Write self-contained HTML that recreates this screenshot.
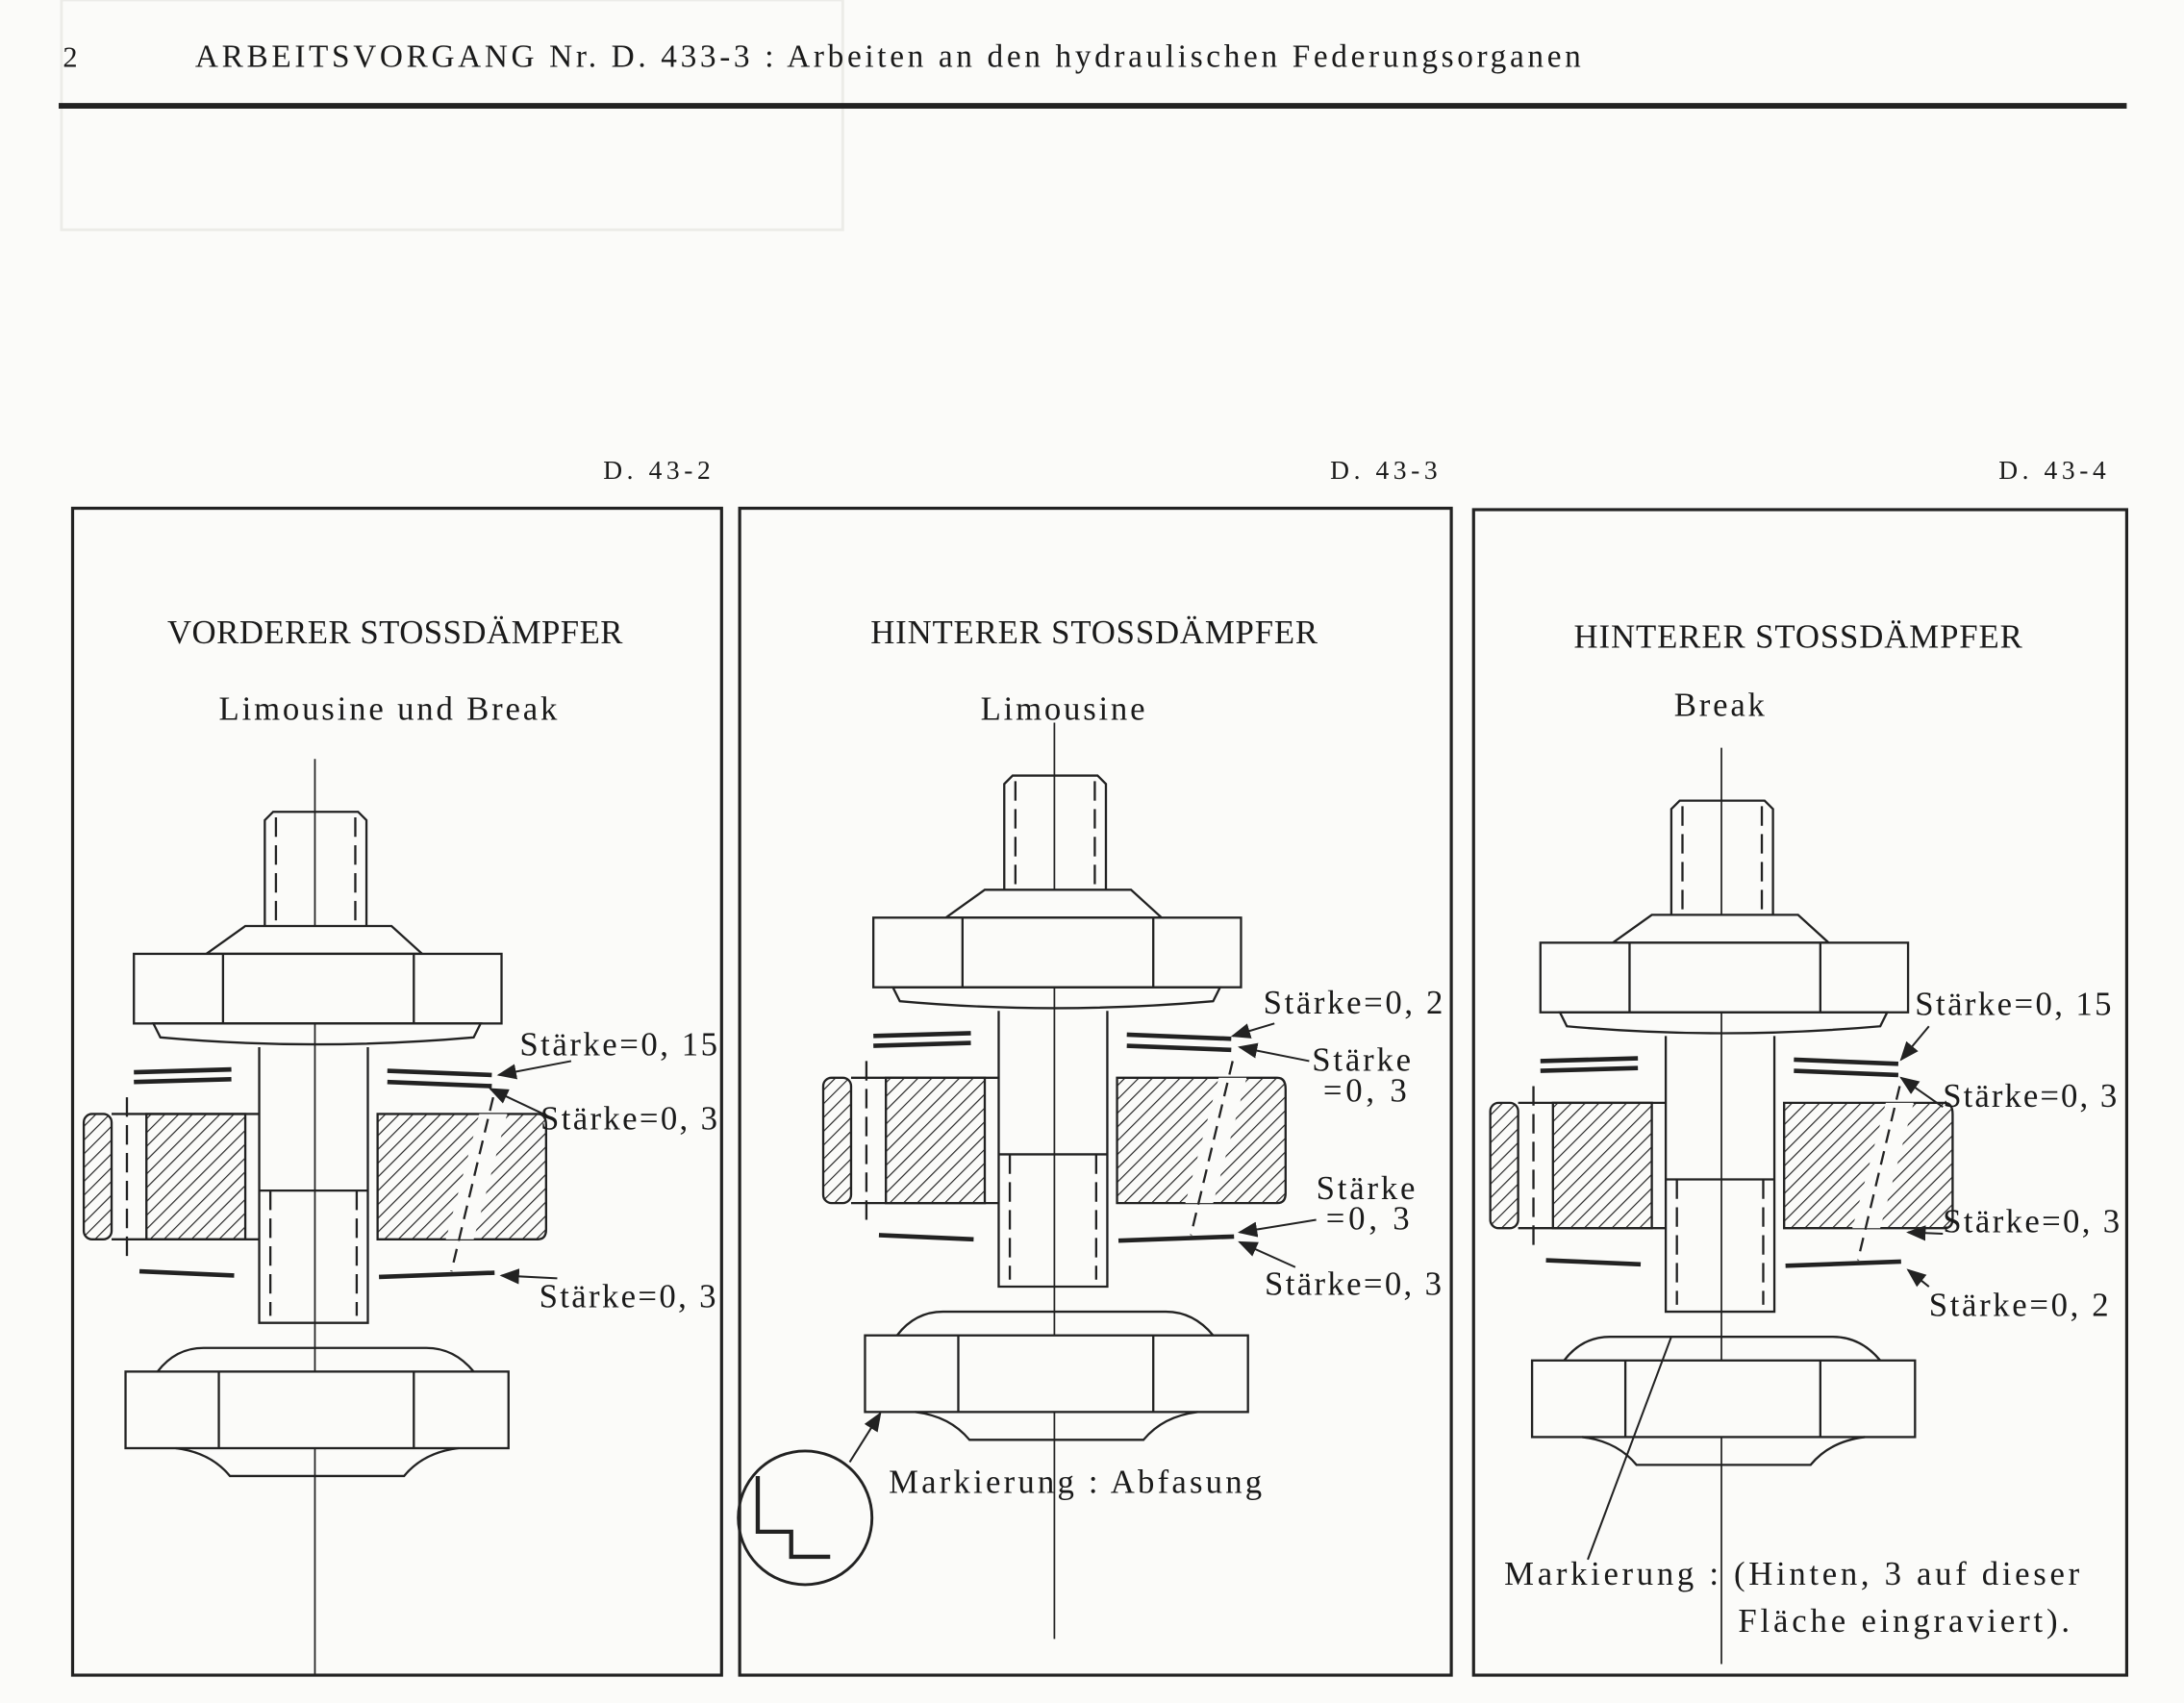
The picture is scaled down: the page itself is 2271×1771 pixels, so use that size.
<!DOCTYPE html>
<html><head><meta charset="utf-8"><style>
html,body{margin:0;padding:0;background:#fbfbf9;}
svg{display:block}
text{font-family:"Liberation Serif",serif;fill:#1a1a1a}
</style></head><body>
<svg width="2271" height="1771" viewBox="0 0 1568 1223" xmlns="http://www.w3.org/2000/svg">
<defs>
<pattern id="h" patternUnits="userSpaceOnUse" width="7" height="7" patternTransform="rotate(45)">
<rect width="7" height="7" fill="#fbfbf9"/><line x1="0" y1="0" x2="0" y2="7" stroke="#222" stroke-width="1.6"/></pattern>
<g id="part" fill="none" stroke="#222" stroke-width="1.6">
<line x1="0" y1="-38" x2="0" y2="620" stroke-width="1.2"/>
<path d="M-36,82 V6 L-30,0 H31 L37,6 V82"/>
<line x1="-28" y1="4" x2="-28" y2="80" stroke-dasharray="14,6"/>
<line x1="29" y1="4" x2="29" y2="80" stroke-dasharray="14,6"/>
<path d="M-50,82 H55 L77,102 H-78 Z" fill="#fbfbf9"/>
<rect x="-130" y="102" width="264" height="50" fill="#fbfbf9"/>
<line x1="-66" y1="102" x2="-66" y2="152"/><line x1="71" y1="102" x2="71" y2="152"/>
<path d="M-116,152 H119 L114,162 Q0,172 -111,162 Z"/>
<path d="M-40,169 V367 H38 V169"/>
<line x1="-32" y1="272" x2="-32" y2="362" stroke-dasharray="14,6"/>
<line x1="30" y1="272" x2="30" y2="362" stroke-dasharray="14,6"/>
<line x1="-40" y1="272" x2="38" y2="272"/>
<g stroke-width="3.2"><line x1="-130" y1="187" x2="-60" y2="185"/><line x1="-130" y1="194" x2="-60" y2="192"/>
<line x1="52" y1="186" x2="127" y2="189"/><line x1="52" y1="194" x2="127" y2="197"/>
<line x1="-126" y1="330" x2="-58" y2="333"/><line x1="46" y1="334" x2="129" y2="331"/></g>
<rect x="-166" y="217" width="20" height="90" rx="6" fill="url(#h)"/>
<rect x="-121" y="217" width="71" height="90" fill="url(#h)"/>
<path d="M45,217 H160 Q166,217 166,225 V300 Q166,307 160,307 H45 Z" fill="url(#h)"/>
<path d="M118,217 H138 L114,307 H94 Z" fill="#fbfbf9" stroke="none"/>
<line x1="-146" y1="217" x2="-40" y2="217"/><line x1="-146" y1="307" x2="-40" y2="307"/>
<line x1="-135" y1="205" x2="-135" y2="320" stroke-dasharray="14,6"/>
<line x1="128" y1="205" x2="98" y2="330" stroke-dasharray="10,6"/>
<path d="M-113,402 Q-100,385 -80,385 H80 Q100,385 114,402"/>
<rect x="-136" y="402" width="275" height="55" fill="#fbfbf9"/>
<line x1="-69" y1="402" x2="-69" y2="457"/><line x1="71" y1="402" x2="71" y2="457"/>
<path d="M-100,457 Q-75,460 -61,477 H64 Q78,460 103,457"/>
</g>
<marker id="a" markerWidth="10" markerHeight="8" refX="9" refY="4" orient="auto"><path d="M0,0 L10,4 L0,8 Z" fill="#222"/></marker>
</defs>
<rect width="1568" height="1223" fill="#fbfbf9"/>
<rect x="44" y="0" width="561" height="165" fill="none" stroke="#ecece8" stroke-width="2"/>
<text x="45" y="48" font-size="21">2</text>
<text x="140" y="48" font-size="23" textLength="995" lengthAdjust="spacing">ARBEITSVORGANG Nr. D. 433-3 : Arbeiten an den hydraulischen Federungsorganen</text>
<line x1="42" y1="76" x2="1527" y2="76" stroke="#222" stroke-width="4"/>
<g font-size="19"><text x="433" y="344" textLength="77">D. 43-2</text><text x="955" y="344" textLength="77">D. 43-3</text><text x="1435" y="344" textLength="77">D. 43-4</text></g>
<g fill="none" stroke="#222" stroke-width="2.2">
<rect x="52" y="365" width="466" height="838"/><rect x="531" y="365" width="511" height="838"/><rect x="1058" y="366" width="469" height="837"/>
</g>
<g font-size="24">
<text x="120" y="462" textLength="327">VORDERER STOSSDÄMPFER</text>
<text x="157" y="517" textLength="243">Limousine und Break</text>
<text x="625" y="462" textLength="321">HINTERER STOSSDÄMPFER</text>
<text x="704" y="517" textLength="118">Limousine</text>
<text x="1130" y="465" textLength="322">HINTERER STOSSDÄMPFER</text>
<text x="1202" y="514" textLength="65">Break</text>
</g>
<use href="#part" x="226" y="583"/>
<use href="#part" x="757" y="557"/>
<use href="#part" x="1236" y="575"/>
<circle cx="578" cy="1090" r="48" fill="none" stroke="#222" stroke-width="2"/>
<path d="M544,1060 V1100 H568 V1118 H596" fill="none" stroke="#222" stroke-width="3"/>
<g font-size="24">
<text x="373" y="758" textLength="142">Stärke=0, 15</text><text x="388" y="811" textLength="127">Stärke=0, 3</text><text x="387" y="939" textLength="127">Stärke=0, 3</text>
<text x="907" y="728" textLength="129">Stärke=0, 2</text><text x="942" y="769" textLength="71">Stärke</text><text x="950" y="791" textLength="60">=0, 3</text>
<text x="945" y="861" textLength="71">Stärke</text><text x="952" y="883" textLength="60">=0, 3</text><text x="908" y="930" textLength="127">Stärke=0, 3</text>
<text x="638" y="1072" textLength="268">Markierung : Abfasung</text>
<text x="1375" y="729" textLength="141">Stärke=0, 15</text><text x="1395" y="795" textLength="125">Stärke=0, 3</text><text x="1395" y="885" textLength="127">Stärke=0, 3</text><text x="1385" y="945" textLength="129">Stärke=0, 2</text>
<text x="1080" y="1138" textLength="413">Markierung : (Hinten, 3 auf dieser</text><text x="1248" y="1172" textLength="238">Fläche eingraviert).</text>
</g>
<g stroke="#222" stroke-width="1.4" marker-end="url(#a)">
<line x1="410" y1="762" x2="358" y2="772"/><line x1="390" y1="800" x2="352" y2="782"/><line x1="400" y1="918" x2="360" y2="916"/>
<line x1="915" y1="735" x2="885" y2="744"/><line x1="940" y1="762" x2="890" y2="752"/><line x1="945" y1="876" x2="890" y2="885"/><line x1="930" y1="910" x2="890" y2="892"/>
<line x1="610" y1="1050" x2="632" y2="1015"/>
<line x1="1385" y1="737" x2="1365" y2="761"/><line x1="1395" y1="795" x2="1365" y2="774"/><line x1="1395" y1="886" x2="1370" y2="885"/><line x1="1385" y1="924" x2="1370" y2="912"/>
</g>
<line x1="1200" y1="960" x2="1140" y2="1120" stroke="#222" stroke-width="1.4"/>
</svg>
</body></html>
